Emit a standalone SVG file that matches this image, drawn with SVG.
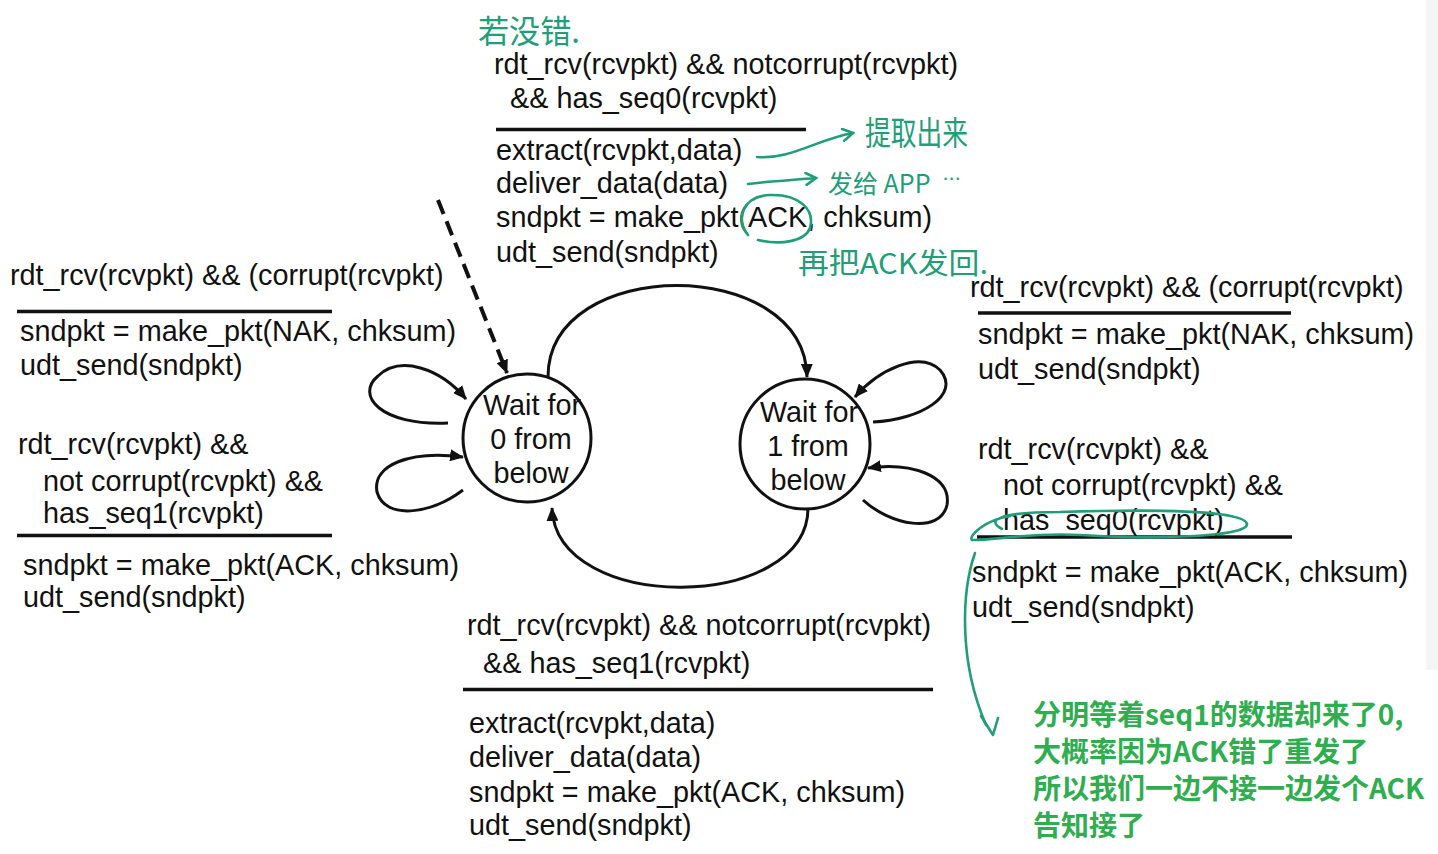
<svg xmlns="http://www.w3.org/2000/svg" width="1438" height="854" viewBox="0 0 1438 854">
  <style>
    .t { font-family: "Liberation Sans", Arial, sans-serif; font-size: 28.8px; fill: #111; }
    .c { text-anchor: middle; }
    .rule { stroke: #111; stroke-width: 3.5; }
    .state { fill: #fff; stroke: #111; stroke-width: 3; }
    .edge { fill: none; stroke: #111; stroke-width: 3; marker-end: url(#arrow); }
    .dash { fill: none; stroke: #111; stroke-width: 4; stroke-dasharray: 15 8; marker-end: url(#arrow); }
    .ink { fill: none; stroke: #1f9e78; stroke-width: 2.6; stroke-linecap: round; stroke-linejoin: round; }
    .hand { font-family: "Noto Sans CJK SC", sans-serif; fill: #1f9e78; }
    .note { font-family: "Noto Sans CJK SC", sans-serif; fill: #2fae4f; font-size: 28px; font-weight: bold; }
  </style>
  <defs>
    <marker id="arrow" viewBox="0 0 14 12" markerWidth="14" markerHeight="12" refX="13" refY="6" orient="auto" markerUnits="userSpaceOnUse">
      <path d="M0,0 L14,6 L0,12 z" fill="#111"/>
    </marker>
    <marker id="inkarrow" viewBox="0 0 14 14" markerWidth="14" markerHeight="14" refX="12" refY="7" orient="auto" markerUnits="userSpaceOnUse">
      <path d="M2,1 L12,7 L2,13" fill="none" stroke="#1f9e78" stroke-width="2.6" stroke-linecap="round"/>
    </marker>
  </defs>

  <rect width="1438" height="854" fill="#fff"/>
  <rect x="1426" y="0" width="12" height="670" fill="#f5f5f5"/>

  <!-- transitions -->
  <g id="connectors">
    <path class="dash" d="M438 200 L507 373"/>
    <path class="edge" d="M548 377 C548 255, 805 255, 807 377"/>
    <path class="edge" d="M808 508 C808 612, 556 615, 552 508"/>
    <path class="edge" d="M448 423 C380 426, 355 395, 378 376 C400 355, 440 368, 466 399"/>
    <path class="edge" d="M463 490 C430 515, 385 520, 377 492 C372 465, 410 450, 463 457"/>
    <path class="edge" d="M873 422 C920 420, 962 395, 940 370 C920 350, 878 370, 855 397"/>
    <path class="edge" d="M863 500 C890 525, 940 535, 947 505 C952 475, 910 462, 868 468"/>
  </g>

  <!-- states -->
  <g id="wait0">
    <circle class="state" cx="527" cy="438" r="64"/>
    <text class="t c" x="532" y="415">Wait for</text>
    <text class="t c" x="531" y="449">0 from</text>
    <text class="t c" x="531" y="483">below</text>
  </g>
  <g id="wait1">
    <circle class="state" cx="805" cy="444" r="65"/>
    <text class="t c" x="809" y="422">Wait for</text>
    <text class="t c" x="808" y="456">1 from</text>
    <text class="t c" x="808" y="490">below</text>
  </g>

  <!-- wait0 -> wait1 label -->
  <g id="label-top">
    <text class="t" x="494" y="74">rdt_rcv(rcvpkt) &amp;&amp; notcorrupt(rcvpkt)</text>
    <text class="t" x="510" y="108">&amp;&amp; has_seq0(rcvpkt)</text>
    <line class="rule" x1="496" y1="129.5" x2="806" y2="129.5"/>
    <text class="t" x="496" y="160">extract(rcvpkt,data)</text>
    <text class="t" x="496" y="193">deliver_data(data)</text>
    <text class="t" x="496" y="227">sndpkt = make_pkt(ACK, chksum)</text>
    <text class="t" x="496" y="262">udt_send(sndpkt)</text>
  </g>

  <!-- wait0 self loops -->
  <g id="label-left">
    <text class="t" x="10" y="285">rdt_rcv(rcvpkt) &amp;&amp; (corrupt(rcvpkt)</text>
    <line class="rule" x1="17" y1="311.5" x2="332" y2="311.5"/>
    <text class="t" x="20" y="341">sndpkt = make_pkt(NAK, chksum)</text>
    <text class="t" x="20" y="375">udt_send(sndpkt)</text>
    <text class="t" x="18" y="454">rdt_rcv(rcvpkt) &amp;&amp;</text>
    <text class="t" x="43" y="491">not corrupt(rcvpkt) &amp;&amp;</text>
    <text class="t" x="43" y="523">has_seq1(rcvpkt)</text>
    <line class="rule" x1="17" y1="535.5" x2="332" y2="535.5"/>
    <text class="t" x="23" y="575">sndpkt = make_pkt(ACK, chksum)</text>
    <text class="t" x="23" y="607">udt_send(sndpkt)</text>
  </g>

  <!-- wait1 self loops -->
  <g id="label-right">
    <text class="t" x="970" y="297">rdt_rcv(rcvpkt) &amp;&amp; (corrupt(rcvpkt)</text>
    <line class="rule" x1="978" y1="313" x2="1291" y2="313"/>
    <text class="t" x="978" y="344">sndpkt = make_pkt(NAK, chksum)</text>
    <text class="t" x="978" y="379">udt_send(sndpkt)</text>
    <text class="t" x="978" y="459">rdt_rcv(rcvpkt) &amp;&amp;</text>
    <text class="t" x="1003" y="495">not corrupt(rcvpkt) &amp;&amp;</text>
    <text class="t" x="1003" y="530">has_seq0(rcvpkt)</text>
    <line class="rule" x1="977" y1="537" x2="1292" y2="537"/>
    <text class="t" x="972" y="582">sndpkt = make_pkt(ACK, chksum)</text>
    <text class="t" x="972" y="617">udt_send(sndpkt)</text>
  </g>

  <!-- wait1 -> wait0 label -->
  <g id="label-bottom">
    <text class="t" x="467" y="635">rdt_rcv(rcvpkt) &amp;&amp; notcorrupt(rcvpkt)</text>
    <text class="t" x="483" y="673">&amp;&amp; has_seq1(rcvpkt)</text>
    <line class="rule" x1="463" y1="689.5" x2="933" y2="689.5"/>
    <text class="t" x="469" y="733">extract(rcvpkt,data)</text>
    <text class="t" x="469" y="767">deliver_data(data)</text>
    <text class="t" x="469" y="802">sndpkt = make_pkt(ACK, chksum)</text>
    <text class="t" x="469" y="835">udt_send(sndpkt)</text>
  </g>

  <!-- handwritten notes -->
  <g id="notes">
    <text class="hand" x="478" y="43" style="font-size:32px" textLength="102" lengthAdjust="spacingAndGlyphs">若没错.</text>
    <path class="ink" d="M757 157 C790 160, 815 140, 853 133" marker-end="url(#inkarrow)"/>
    <text class="hand" x="865" y="145" style="font-size:33px" textLength="103" lengthAdjust="spacingAndGlyphs">提取出来</text>
    <path class="ink" d="M748 184 C770 181, 795 180, 816 178" marker-end="url(#inkarrow)"/>
    <text class="hand" x="828" y="193" style="font-size:25px">发给 APP<tspan dx="12" dy="-13" style="font-family:'Liberation Sans', sans-serif; font-size:22px">...</tspan></text>
    <path class="ink" d="M748 235 C735 220, 742 196, 770 195 C800 194, 815 210, 810 228 C805 242, 780 245, 758 240"/>
    <text class="hand" x="798" y="274" style="font-size:29px" textLength="190" lengthAdjust="spacingAndGlyphs">再把ACK发回.</text>
    <path class="ink" d="M1002 529 C985 520, 1000 512, 1060 512 C1150 509, 1245 510, 1247 524 C1248 537, 1150 540, 1080 535 C1030 532, 990 541, 972 540 C968 536, 985 520, 1010 516"/>
    <path class="ink" d="M975 553 C962 590, 958 660, 986 725"/>
    <path class="ink" d="M981 716 L993 735 L998 718"/>
  </g>

  <g id="explanation">
    <text class="note" x="1033" y="725">分明等着seq1的数据却来了0,</text>
    <text class="note" x="1033" y="762">大概率因为ACK错了重发了</text>
    <text class="note" x="1033" y="799">所以我们一边不接一边发个ACK</text>
    <text class="note" x="1033" y="836">告知接了</text>
  </g>
</svg>
